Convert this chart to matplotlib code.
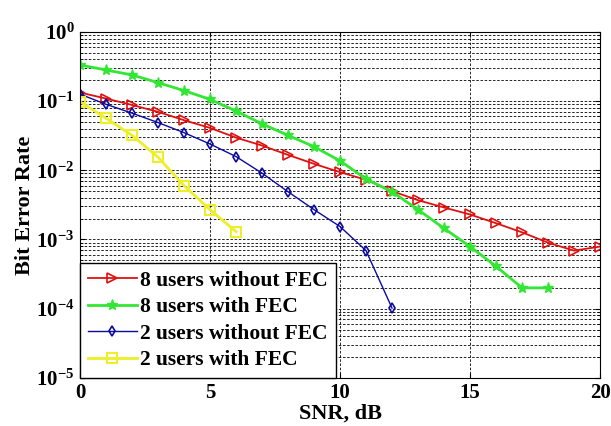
import matplotlib
matplotlib.use('Agg')
import matplotlib.pyplot as plt

# SNR points (dB)
snr_8_nofec = list(range(0, 21))
ber_8_nofec = [0.133, 0.109, 0.088, 0.070, 0.053, 0.041, 0.0297, 0.0228, 0.0167, 0.0124,
               0.0094, 0.0073, 0.0050, 0.0037, 0.0029, 0.0023, 0.00172, 0.00127, 0.0009,
               0.00069, 0.00079]

snr_8_fec = list(range(0, 19))
ber_8_fec = [0.333, 0.282, 0.239, 0.185, 0.142, 0.106, 0.072, 0.047, 0.032, 0.022,
             0.0137, 0.0075, 0.0049, 0.0027, 0.00145, 0.00079, 0.00041, 0.0002, 0.0002]

snr_2_nofec = list(range(0, 13))
ber_2_nofec = [0.126, 0.090, 0.067, 0.049, 0.035, 0.024, 0.0158, 0.0091, 0.0049, 0.0027,
               0.00154, 0.00069, 0.000102]

snr_2_fec = list(range(0, 7))
ber_2_fec = [0.098, 0.0566, 0.032, 0.0155, 0.006, 0.0027, 0.0013]

labels = ['8 users without FEC', '8 users with FEC', '2 users without FEC', '2 users with FEC']

plt.rcParams['font.family'] = ['Liberation Serif', 'DejaVu Serif']
plt.rcParams['font.weight'] = 'bold'

fig = plt.figure(figsize=(6.11, 4.26), dpi=100)
ax = fig.add_axes([0.131, 0.113, 0.851, 0.812])

ax.semilogy(snr_8_nofec, ber_8_nofec, '-', color='#e01010', linewidth=1.3, marker='>',
            markersize=7, markerfacecolor='none', markeredgewidth=1.2, label=labels[0])
ax.semilogy(snr_8_fec, ber_8_fec, '-', color='#33e633', linewidth=2, marker='*',
            markersize=8, label=labels[1])
ax.semilogy(snr_2_nofec, ber_2_nofec, '-', color='#0a0aa0', linewidth=1, marker='d',
            markersize=5.5, markerfacecolor='none', markeredgewidth=1.2, label=labels[2])
ax.semilogy(snr_2_fec, ber_2_fec, '-', color='#eeee2a', linewidth=2, marker='s',
            markersize=6.5, markerfacecolor='none', markeredgewidth=1.5, label=labels[3])

ax.set_xlim(0, 20)
ax.set_ylim(1e-5, 1)
ax.set_xticks([0, 5, 10, 15, 20])
ax.set_yticks([1e-5, 1e-4, 1e-3, 1e-2, 1e-1, 1])
ax.grid(True, which='major', linestyle=(0, (3, 2)), color='black', linewidth=0.6)
ax.grid(True, which='minor', axis='y', linestyle=(0, (3, 2)), color='black', linewidth=0.6)
ax.tick_params(direction='in', which='both', labelsize=15, top=True, right=True, pad=4)
for lab in ax.get_xticklabels() + ax.get_yticklabels():
    lab.set_fontweight('bold')

ax.set_xlabel('SNR, dB', fontsize=16, fontweight='bold', labelpad=0)
ax.set_ylabel('Bit Error Rate', fontsize=16, fontweight='bold', labelpad=1)

leg = ax.legend(loc='lower left', frameon=True, fancybox=False, framealpha=1,
                edgecolor='black', borderaxespad=0, handlelength=2.3, handletextpad=0.15,
                labelspacing=0.3, borderpad=0.35, prop={'weight': 'bold', 'size': 15.5})
leg.get_frame().set_linewidth(1)

fig.savefig('out.png', dpi=100)
